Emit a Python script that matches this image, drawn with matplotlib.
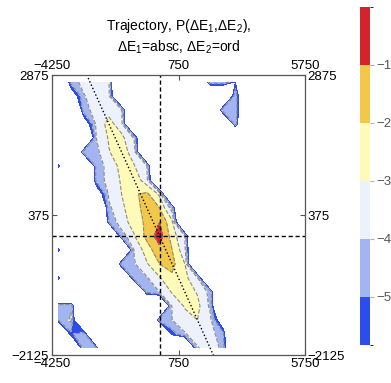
import numpy as np
import matplotlib
matplotlib.use("Agg")
import matplotlib.pyplot as plt
from matplotlib.colors import ListedColormap, BoundaryNorm
from matplotlib.cm import ScalarMappable

plt.rcParams['font.family'] = ['Liberation Sans', 'DejaVu Sans']
plt.rcParams['mathtext.fontset'] = 'custom'
plt.rcParams['mathtext.rm'] = 'Liberation Sans'
plt.rcParams['mathtext.default'] = 'regular'

# bin centres (energy changes)
dE1 = np.arange(-4000, 5501, 500)
dE2 = np.arange(-2000, 2751, 250)

E = -12.0  # empty bin (log10 P far below the lowest level)

# log10 P, rows from dE2 = 2750 (top) down to dE2 = -2000 (bottom)
logp_rows = [
    [E, -4.6, -3.6, -3.5, -3.9, E, E, E, E, E, E, E, -4.1, -4.05, -5.9, E, E, E, E, E],
    [E, -7.5, -4.1, -3.4, -3.8, E, E, E, E, E, E, E, E, E, -4.05, E, E, E, E, E],
    [E, E, -4.4, -3.6, -3.4, -3.9, E, E, E, E, E, E, E, -4.2, -4.05, E, E, E, E, E],
    [E, E, -7.5, -3.8, -2.6, -3.6, E, E, E, E, E, E, E, E, -4.4, E, E, E, E, E],
    [E, E, E, -4.0, -2.9, -2.7, -4.1, E, E, E, E, E, E, E, E, E, E, E, E, E],
    [E, E, -4.5, -4.3, -3.05, -2.5, -3.5, E, E, E, E, E, E, E, E, E, E, E, E, E],
    [-5.1, E, E, -4.6, -3.6, -2.7, -2.95, -4.0, E, E, E, E, E, E, E, E, E, E, E, E],
    [E, E, E, -4.7, -3.6, -2.9, -2.3, -3.7, E, E, E, E, E, E, E, E, E, E, E, E],
    [E, E, E, -7.5, -3.8, -3.0, -2.1, -1.8, -3.2, E, E, E, E, E, E, E, E, E, E, E],
    [E, E, E, E, -4.2, -3.2, -2.4, -1.6, -2.0, -4.5, E, E, E, E, E, E, E, E, E, E],
    [E, E, E, E, -5.0, -3.3, -2.7, -1.7, -1.0, -2.8, E, E, E, E, E, E, E, E, E, E],
    [E, E, E, E, E, -4.6, -3.05, -1.7, -0.45, -2.5, -4.0, E, E, E, E, E, E, E, E, E],
    [-5.1, E, E, E, E, E, -3.9, -2.5, -1.3, -2.0, -3.7, E, E, E, E, E, E, E, E, E],
    [E, E, E, E, E, -4.3, -4.1, -3.1, -2.0, -1.7, -3.0, E, E, E, E, E, E, E, E, E],
    [-5.1, E, E, E, E, E, -4.3, -4.1, -3.1, -2.2, -2.7, -3.9, E, E, E, E, E, E, E, E],
    [E, E, E, E, E, E, E, -4.7, -4.0, -2.9, -2.4, -3.1, -4.3, E, E, E, E, E, E, E],
    [-4.3, -4.2, E, E, E, E, E, E, E, -3.8, -2.9, -2.7, -4.2, E, E, E, E, E, E, E],
    [-5.0, -3.8, E, E, E, E, E, E, -4.4, -4.0, -3.4, -3.0, -3.7, -7.5, E, E, E, E, E, E],
    [E, -5.2, -4.2, E, E, E, E, E, E, -5.5, -4.1, -3.4, -3.6, -4.6, E, E, E, E, E, E],
    [E, E, -4.3, -5.0, E, E, E, E, E, E, E, -4.1, -3.5, -4.2, E, E, E, E, E, E],
]

levels = [-5.83, -5, -4, -3, -2, -1, 0]
level_colors = ['#2d4deb', '#a3b5f0', '#edf1fb', '#fffab8', '#f2c84a', '#d3242b']
line_levels = [-5, -4, -3, -2, -1]

x_ticks = [-4250, 750, 5750]
y_ticks = [-2125, 375, 2875]

Z = np.array(logp_rows)[::-1]
X, Y = np.meshgrid(dE1, dE2)

fig = plt.figure(figsize=(3.91, 3.83), dpi=100)
ax = fig.add_axes([52/391, 28/383, 253/391, 280/383])

ax.contourf(X, Y, Z, levels=levels, colors=level_colors)
ax.contour(X, Y, Z, levels=line_levels, colors='#8a8a8a', linewidths=0.8)

ax.axvline(0, color='black', lw=1.0, dashes=(3, 2))
ax.axhline(0, color='black', lw=1.0, dashes=(3, 2))
xs = np.array([-4250, 5750])
ax.plot(xs, -xs, color='black', lw=1.0, dashes=(1, 1.6))

ax.set_xlim(-4250, 5750)
ax.set_ylim(-2125, 2875)
ax.set_xticks(x_ticks)
ax.set_yticks(y_ticks)
ax.tick_params(top=True, labeltop=True, right=True, labelright=True,
               direction='in', length=3.5, width=0.8, color='#555555',
               labelsize=9.5, pad=2)
for s in ax.spines.values():
    s.set_color('#555555')
    s.set_linewidth(0.9)

fig.text(178.5/391, 1 - 26/383, 'Trajectory, P(ΔE$_1$,ΔE$_2$),',
         ha='center', va='center', fontsize=10)
fig.text(178.5/391, 1 - 47/383, 'ΔE$_1$=absc, ΔE$_2$=ord',
         ha='center', va='center', fontsize=10)

cax = fig.add_axes([360/391, 38/383, 10/391, 338/383])
sm = ScalarMappable(norm=BoundaryNorm(levels, len(level_colors)),
                    cmap=ListedColormap(level_colors))
cb = fig.colorbar(sm, cax=cax, ticks=line_levels, spacing='proportional')
cb.outline.set_visible(False)
cax.tick_params(length=3, width=0.8, color='#b0b0b0', labelcolor='#555555',
                labelsize=9.5, pad=1.5)

fig.savefig('out.png', dpi=100)
